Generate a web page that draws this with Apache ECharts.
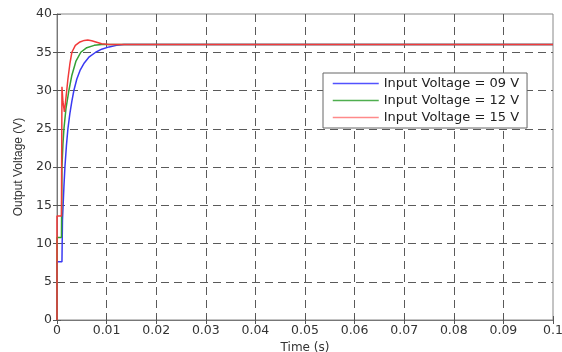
<!DOCTYPE html>
<html>
<head>
<meta charset="utf-8">
<script src="https://cdn.jsdelivr.net/npm/echarts@6/dist/echarts.min.js"></script>
<style>
html,body{margin:0;padding:0;background:#fff;}
#chart{width:562px;height:352px;}
</style>
</head>
<body>
<div id="chart"></div>
<script>
// ---- data ----
var xTickLabels = ['0','0.01','0.02','0.03','0.04','0.05','0.06','0.07','0.08','0.09','0.1'];
var yTickLabels = ['0','5','10','15','20','25','30','35','40'];
var seriesNames = ['Input Voltage = 09 V','Input Voltage = 12 V','Input Voltage = 15 V'];

var blueT = [0, 0, 0.0003, 0.0010, 0.0011, 0.0014, 0.0016, 0.0019, 0.0022, 0.0026, 0.0030, 0.0034, 0.0040, 0.0047, 0.0055, 0.0065, 0.0078, 0.0090, 0.0105, 0.0120, 0.0135, 0.1];
var blueV = [0, 7.6, 7.4, 7.6, 13.0, 17.5, 20.0, 22.8, 25.0, 27.0, 28.6, 30.0, 31.5, 32.7, 33.6, 34.4, 35.0, 35.4, 35.7, 35.9, 36.0, 36.0];

var greenT = [0, 0, 0.0009, 0.0010, 0.0012, 0.0014, 0.0018, 0.0024, 0.0030, 0.0038, 0.0048, 0.0060, 0.0075, 0.0090, 0.1];
var greenV = [0, 10.8, 10.8, 20.0, 23.0, 25.0, 27.6, 30.0, 32.0, 33.8, 35.0, 35.6, 35.9, 36.0, 36.0];

var redT = [0, 0, 0.0009, 0.0010, 0.0012, 0.0015, 0.0018, 0.0022, 0.0026, 0.0030, 0.0037, 0.0045, 0.0055, 0.0062, 0.0070, 0.0080, 0.0090, 0.0105, 0.1];
var redV = [0, 13.6, 13.6, 30.5, 28.5, 27.2, 29.0, 31.5, 33.5, 35.0, 35.9, 36.3, 36.55, 36.6, 36.5, 36.3, 36.1, 36.0, 36.0];

function pairs(t, v){ var out=[]; for (var i=0;i<t.length;i++) out.push([t[i], v[i]]); return out; }

var lineColors = ['#3a3af2', '#34a034', '#f23a3a'];
var legendColors = ['#5252ff', '#4fae4f', '#ff8a8a'];

var chart = echarts.init(document.getElementById('chart'), null, {renderer:'canvas'});
var font = 'DejaVu Sans';
var xMin = 0, xMax = 0.1, xInt = 0.01;
var yMin = 0, yMax = 40, yInt = 5;

function xFmt(v){ var i = Math.round((v - xMin)/xInt); return xTickLabels[i] !== undefined ? xTickLabels[i] : ''; }
function yFmt(v){ var i = Math.round((v - yMin)/yInt); return yTickLabels[i] !== undefined ? yTickLabels[i] : ''; }

var dashed = {show:true, lineStyle:{color:'#5a5a5a', width:1, type:[8,5]}, showMinLine:false, showMaxLine:false};

chart.setOption({
  animation:false,
  backgroundColor:'#fff',
  grid:{left:57, right:9, top:14, bottom:32, outerBoundsMode:'none', containLabel:false, show:true, borderColor:'#888', borderWidth:1, backgroundColor:'transparent'},
  legend:{
    orient:'vertical', left:323, top:73,
    backgroundColor:'#fff', borderColor:'#666', borderWidth:1, borderRadius:0,
    padding:[4,8,4,9], itemWidth:46, itemHeight:14, itemGap:4,
    textStyle:{fontFamily:font, fontSize:13, color:'#222'},
    data: seriesNames.map(function(n,i){ return {name:n, lineStyle:{color:legendColors[i], width:1.5, opacity:1}, itemStyle:{color:legendColors[i], opacity:0, borderWidth:0}}; })
  },
  xAxis:[{
    type:'value', min:xMin, max:xMax, interval:xInt, position:'bottom',
    name:'Time (s)', nameLocation:'middle', nameGap:20,
    nameTextStyle:{fontFamily:font, fontSize:12, color:'#333'},
    axisLine:{show:true, lineStyle:{color:'#777'}},
    axisTick:{show:true, inside:true, length:4, lineStyle:{color:'#555'}},
    axisLabel:{fontFamily:font, fontSize:12.5, color:'#333', margin:4, formatter:xFmt},
    splitLine:dashed
  },{
    type:'value', min:xMin, max:xMax, interval:xInt, position:'top',
    axisLine:{show:false}, axisLabel:{show:false}, splitLine:{show:false},
    axisTick:{show:true, inside:true, length:4, lineStyle:{color:'#555'}}
  }],
  yAxis:[{
    type:'value', min:yMin, max:yMax, interval:yInt, position:'left',
    name:'Output Voltage (V)', nameLocation:'middle', nameGap:32, nameRotate:90,
    nameTextStyle:{fontFamily:'Liberation Sans', fontSize:12, color:'#333'},
    axisLine:{show:true, lineStyle:{color:'#777'}},
    axisTick:{show:true, inside:true, length:4, lineStyle:{color:'#555'}},
    axisLabel:{fontFamily:font, fontSize:12.5, color:'#333', margin:5, formatter:yFmt},
    splitLine:dashed
  },{
    type:'value', min:yMin, max:yMax, interval:yInt, position:'right',
    axisLine:{show:false}, axisLabel:{show:false}, splitLine:{show:false},
    axisTick:{show:true, inside:true, length:4, lineStyle:{color:'#555'}}
  }],
  series:[
    {name:seriesNames[0], type:'line', symbol:'none', data:pairs(blueT, blueV), lineStyle:{color:lineColors[0], width:1.5}, itemStyle:{color:lineColors[0]}, z:2},
    {name:seriesNames[1], type:'line', symbol:'none', data:pairs(greenT, greenV), lineStyle:{color:lineColors[1], width:1.5}, itemStyle:{color:lineColors[1]}, z:3},
    {name:seriesNames[2], type:'line', symbol:'none', data:pairs(redT, redV), lineStyle:{color:lineColors[2], width:1.5}, itemStyle:{color:lineColors[2]}, z:4}
  ]
});
</script>
</body>
</html>
